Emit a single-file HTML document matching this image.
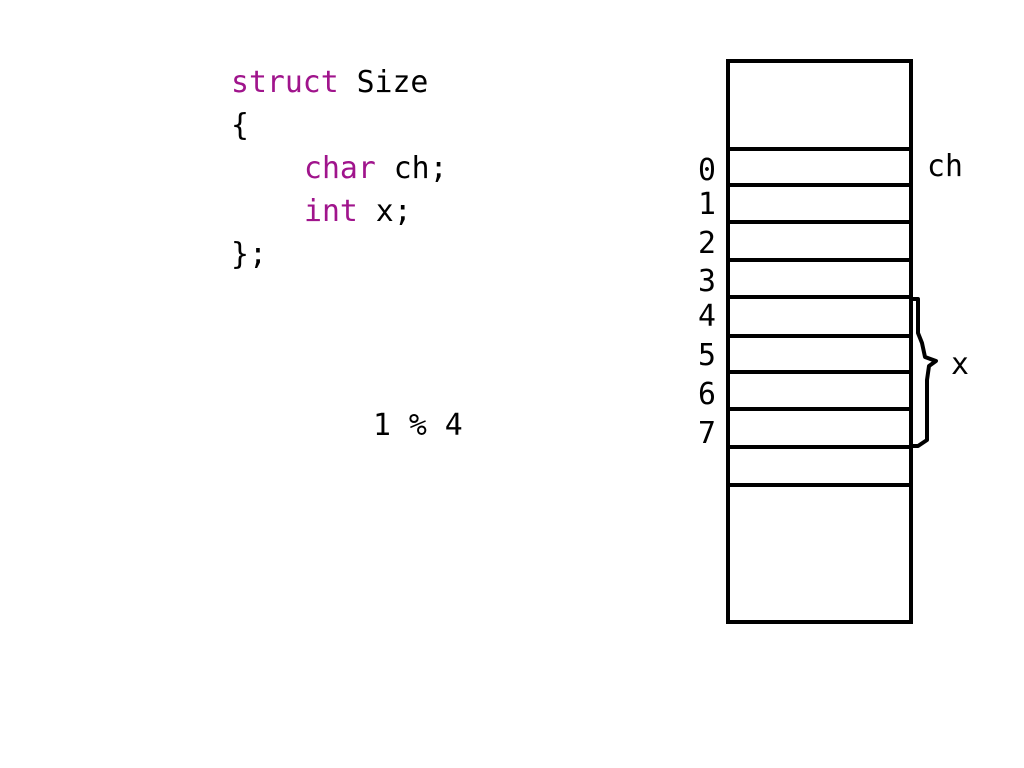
<!DOCTYPE html>
<html><head><style>
body{margin:0;width:1024px;height:768px;background:#fff;overflow:hidden}
svg{position:absolute;left:0;top:0}
text{font-family:"DejaVu Sans Mono","Liberation Mono",monospace;font-size:29.8px;fill:#000}
.k{fill:#a0148c}
</style></head><body>
<svg width="1024" height="768">
<text x="231" y="92"><tspan class="k">struct</tspan> Size</text>
<text x="231" y="135">{</text>
<text x="304" y="178"><tspan class="k">char</tspan> ch;</text>
<text x="304" y="221"><tspan class="k">int</tspan> x;</text>
<text x="231" y="264">};</text>
<text x="373" y="435">1 % 4</text>
<rect x="728" y="61" width="183" height="561" fill="none" stroke="#000" stroke-width="4"/>
<g stroke="#000" stroke-width="4">
<line x1="728" y1="149" x2="911" y2="149"/>
<line x1="728" y1="185" x2="911" y2="185"/>
<line x1="728" y1="222" x2="911" y2="222"/>
<line x1="728" y1="260" x2="911" y2="260"/>
<line x1="728" y1="297" x2="911" y2="297"/>
<line x1="728" y1="336" x2="911" y2="336"/>
<line x1="728" y1="372" x2="911" y2="372"/>
<line x1="728" y1="409" x2="911" y2="409"/>
<line x1="728" y1="447" x2="911" y2="447"/>
<line x1="728" y1="485" x2="911" y2="485"/>
</g>
<path d="M911 299 L918 299 L918 333 L922 343 L925 357 L936 361 L929 366 L927 380 L927 440 L918 446 L911 446" fill="none" stroke="#000" stroke-width="4" stroke-linejoin="round"/>
<g text-anchor="middle">
<text x="707" y="180">0</text>
<text x="707" y="214">1</text>
<text x="707" y="253">2</text>
<text x="707" y="291">3</text>
<text x="707" y="326">4</text>
<text x="707" y="365">5</text>
<text x="707" y="404">6</text>
<text x="707" y="443">7</text>
</g>
<text x="927" y="176">ch</text>
<text x="951" y="374">x</text>
</svg>
</body></html>
